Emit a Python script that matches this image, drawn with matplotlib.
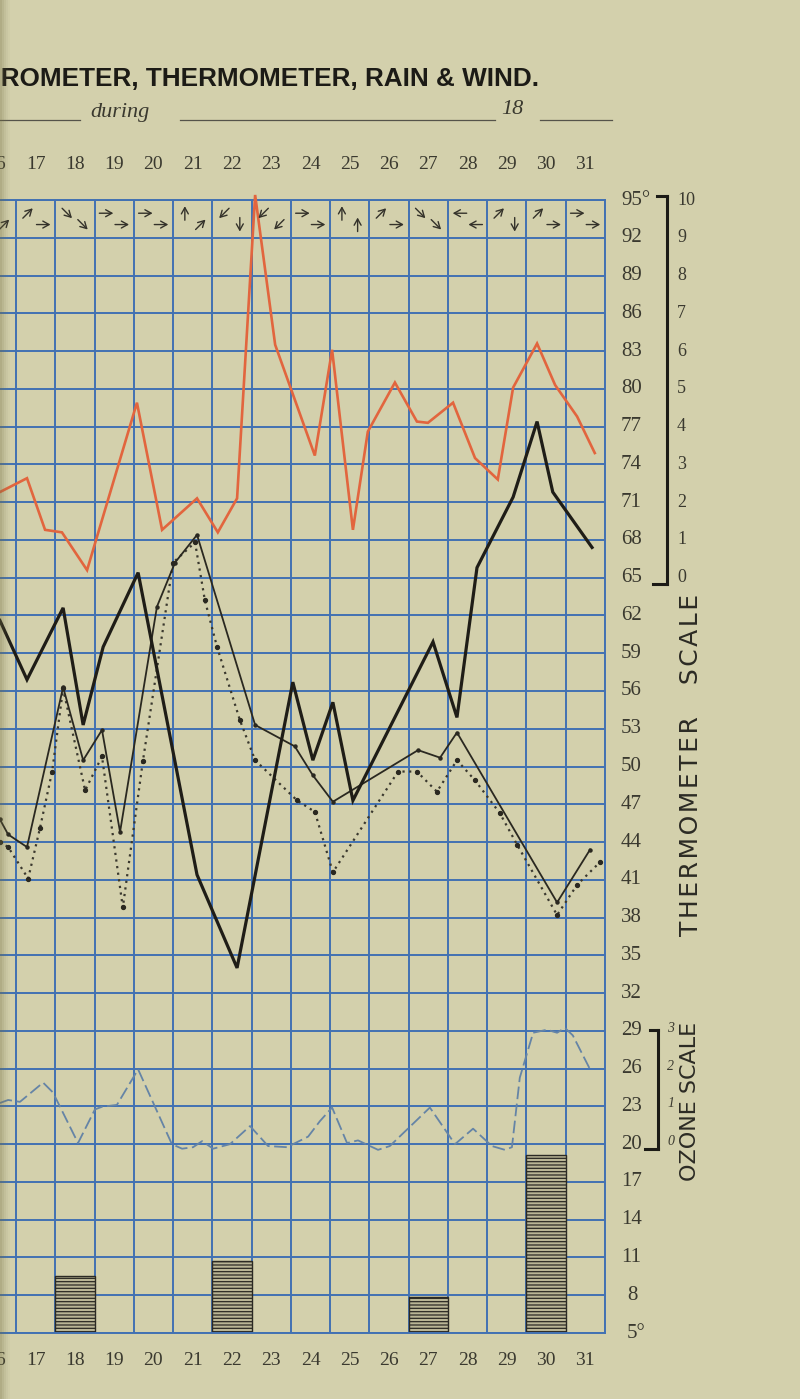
import matplotlib
matplotlib.use('Agg')
import matplotlib.pyplot as plt
import numpy as np
from matplotlib.lines import Line2D
from matplotlib.transforms import blended_transform_factory

# ---------------- data ----------------
days = list(range(16, 32))
day_labels = [str(d) for d in days]
temp_ticks = list(range(95, 4, -3))          # 95 ... 5
rain_ticks = list(range(10, -1, -1))         # 10 ... 0  (on 95..65)
ozone_ticks = [3, 2, 1, 0]                   # (on 29..20)

# red curve (upper section)
red_t = [16.09, 16.78, 17.24, 17.67, 18.31, 19.58, 20.22, 21.11, 21.64, 22.13,
         22.59, 23.10, 24.11, 24.55, 25.08, 25.46, 26.15, 26.71, 26.99, 27.63,
         28.19, 28.77, 29.16, 29.77, 30.23, 30.79, 31.24]
red_v = [71.8, 72.9, 68.8, 68.6, 65.6, 78.9, 68.8, 71.3, 68.6, 71.3,
         95.4, 83.5, 74.7, 83.1, 68.8, 76.6, 80.5, 77.4, 77.3, 78.9,
         74.5, 72.8, 80.1, 83.6, 80.3, 77.8, 74.9]

# thick black thermometer curve
thick_t = [16.09, 16.78, 17.70, 18.21, 18.72, 19.61, 21.11, 22.13, 23.55, 24.06,
           24.57, 25.08, 27.12, 27.73, 28.24, 29.16, 29.77, 30.17, 31.17]
thick_v = [61.6, 56.9, 62.6, 53.3, 59.5, 65.4, 41.4, 34.0, 56.7, 50.5,
           55.1, 47.3, 59.9, 53.9, 65.8, 71.4, 77.4, 71.8, 67.4]

# thin black curve
thin_t = [16.09, 16.30, 16.78, 17.70, 18.21, 18.69, 19.15, 20.09, 20.55, 21.11,
          22.59, 23.60, 24.06, 24.57, 26.74, 27.30, 27.73, 30.28, 31.12]
thin_v = [45.8, 44.6, 43.6, 56.3, 50.5, 52.9, 44.8, 62.7, 66.2, 68.4,
          53.3, 51.6, 49.3, 47.2, 51.3, 50.7, 52.7, 39.2, 43.4]

# dotted curve
dot_t = [16.09, 16.30, 16.81, 17.11, 17.42, 17.70, 18.26, 18.69, 19.22, 19.73,
         20.50, 21.06, 21.31, 21.62, 22.20, 22.59, 23.66, 24.11, 24.57, 26.23,
         26.71, 27.22, 27.73, 28.19, 28.82, 29.26, 30.28, 30.79, 31.37]
dot_v = [44.0, 43.6, 41.1, 45.1, 49.6, 56.2, 48.1, 50.8, 38.8, 50.4,
         66.2, 67.8, 63.2, 59.5, 53.7, 50.5, 47.3, 46.4, 41.6, 49.6,
         49.6, 48.0, 50.5, 48.9, 46.3, 43.8, 38.2, 40.6, 42.4]

# ozone (ozone-scale units 0..3)
ozone_t = [16.09, 16.30, 16.60, 17.19, 17.44, 18.08, 18.51, 18.69, 19.07, 19.61,
           20.04, 20.47, 20.73, 21.01, 21.24, 21.52, 21.95, 22.46, 22.92, 23.40,
           23.94, 24.24, 24.55, 24.93, 25.21, 25.72, 26.02, 27.04, 27.68, 28.14,
           28.62, 28.95, 29.13, 29.33, 29.67, 30.02, 30.28, 30.48, 30.68, 31.12]
ozone_v = [1.09, 1.17, 1.12, 1.63, 1.37, 0.03, 0.92, 0.99, 1.04, 1.98,
           0.99, 0.0, -0.12, -0.08, 0.08, -0.12, 0.0, 0.48, -0.05, -0.08,
           0.20, 0.61, 0.97, 0.03, 0.10, -0.15, -0.05, 0.97, 0.0, 0.41,
           -0.05, -0.15, -0.08, 1.76, 2.95, 3.03, 2.95, 3.08, 2.88, 1.98]

# rain (rain-scale units)
rain_days = [18, 22, 27, 30]
rain_vals = [1.5, 1.9, 0.95, 4.7]

# wind directions, two observations per day
wind_a = ['N', 'NE', 'SE', 'E', 'E', 'N', 'SW', 'SW', 'E', 'N', 'NE', 'SE', 'W', 'NE', 'NE', 'E']
wind_b = ['NE', 'E', 'SE', 'E', 'E', 'NE', 'S', 'SW', 'E', 'N', 'E', 'SE', 'W', 'S', 'E', 'E']

# ---------------- style ----------------
W, H = 800, 1399
PAPER = '#d3d0ac'
GRID = '#4271b3'
INK = '#2a2820'
RED = '#e2653e'
OZ = '#6584a6'
SERIF = ['Liberation Serif', 'DejaVu Serif']
SANS = ['DejaVu Sans']

plt.rcParams['hatch.linewidth'] = 0.9
plt.rcParams['hatch.color'] = '#2b2a24'

fig = plt.figure(figsize=(W / 100, H / 100), dpi=100, facecolor=PAPER)

x0_px, x1_px, ytop_px, ybot_px = 0, 605, 200, 1333
ax = fig.add_axes([x0_px / W, 1 - ybot_px / H, (x1_px - x0_px) / W, (ybot_px - ytop_px) / H])
ax.set_facecolor(PAPER)
ax.set_xlim(16.5 - 16 / 39.27, 31.5)
ax.set_ylim(5, 95)
ax.set_xticks(np.arange(16.5, 31.6, 1.0))
ax.set_yticks(temp_ticks)
ax.grid(True, color=GRID, lw=1.4, zorder=0)
ax.tick_params(length=0, labelbottom=False, labelleft=False)
for s in ax.spines.values():
    s.set_color(GRID)
    s.set_linewidth(1.4)
ax.spines['left'].set_visible(False)

# rain bars
ax.bar(rain_days, [3 * r for r in rain_vals], bottom=5, width=1.0,
       color='#b9b595', edgecolor='#2b2a24', hatch='-----', lw=1.0, zorder=2)

# ozone curve
ax.plot(ozone_t, [20 + 3 * o for o in ozone_v], color=OZ, lw=1.3,
        ls=(0, (7, 2.5)), zorder=3)

# red curve
ax.plot(red_t, red_v, color=RED, lw=1.9, zorder=4, clip_on=False, solid_joinstyle='miter')

# dotted curve
ax.plot(dot_t, dot_v, color='#3a382e', lw=1.6, ls=(0, (1, 2)), zorder=4)
ax.plot(dot_t, dot_v, ls='none', marker='o', ms=2.8, color='#2a2820', zorder=4)

# thin solid curve
ax.plot(thin_t, thin_v, color=INK, lw=1.3, zorder=5)
ax.plot(thin_t, thin_v, ls='none', marker='o', ms=2.2, color=INK, zorder=5)

# thick solid curve
ax.plot(thick_t, thick_v, color='#1f1d17', lw=2.3, zorder=6, solid_joinstyle='miter')

# wind arrows
ang = {'E': 0, 'NE': 45, 'N': 90, 'NW': 135, 'W': 180, 'SW': 225, 'S': 270, 'SE': 315}
L = 14.0
for d, wa, wb in zip(days, wind_a, wind_b):
    for (cx, cy, w) in ((d - 0.2, 93.95, wa), (d + 0.2, 93.05, wb)):
        a = np.deg2rad(ang[w])
        dx = 0.5 * L * np.cos(a) / 39.27
        dy = 0.5 * L * np.sin(a) / 12.59
        ax.annotate('', xy=(cx + dx, cy + dy), xytext=(cx - dx, cy - dy),
                    arrowprops=dict(arrowstyle='->,head_length=0.45,head_width=0.25',
                                    lw=1.0, color='#34322a', shrinkA=0, shrinkB=0),
                    zorder=7, annotation_clip=True)

# day labels (top and bottom)
tr_x = blended_transform_factory(ax.transData, ax.transAxes)
for d, lab in zip(days, day_labels):
    ax.text(d, 1.031, lab, transform=tr_x, ha='center', va='center',
            fontsize=14, family=SERIF, color='#3a392f', clip_on=False)
    ax.text(d, -0.024, lab, transform=tr_x, ha='center', va='center',
            fontsize=14, family=SERIF, color='#3a392f', clip_on=False)

# thermometer scale labels
tr_y = blended_transform_factory(ax.transAxes, ax.transData)
for t in temp_ticks:
    lab = f'{t}°' if t in (95, 5) else str(t)
    xx = 621 if t >= 10 else 627
    ax.text(xx / x1_px, t, lab, transform=tr_y, ha='left', va='center',
            fontsize=15, family=SERIF, color='#3a392f', clip_on=False)

# rain scale
for r in rain_ticks:
    ax.text(677 / x1_px, 65 + 3 * r, str(r), transform=tr_y, ha='left', va='center',
            fontsize=13, family=SERIF, color='#3a392f', clip_on=False)
bx = 667 / x1_px
for seg in (([bx, bx], [95.3, 64.5]), ([657 / x1_px, bx], [95.3, 95.3]), ([653 / x1_px, bx], [64.5, 64.5])):
    ax.add_line(Line2D(seg[0], seg[1], transform=tr_y, color='#1c1b16', lw=2.2, clip_on=False))

# ozone scale
for o in ozone_ticks:
    ax.text(667 / x1_px, 20 + 3 * o + 0.2, str(o), transform=tr_y, ha='left', va='center',
            fontsize=10, style='italic', family=SERIF, color='#3a392f', clip_on=False)
ox = 658 / x1_px
for seg in (([ox, ox], [29.1, 19.6]), ([650 / x1_px, ox], [29.1, 29.1]), ([645 / x1_px, ox], [19.6, 19.6])):
    ax.add_line(Line2D(seg[0], seg[1], transform=tr_y, color='#1c1b16', lw=2.2, clip_on=False))

hs = '\u200a'
fig.text(691 / W, 1 - 765 / H, hs.join('THERMOMETER') + '    ' + hs.join('SCALE'),
         rotation=90, ha='center', va='center', fontsize=18, family=SANS, color='#2c2b24')
fig.text(690 / W, 1 - 1101 / H, 'OZONE SCALE', rotation=90, ha='center', va='center',
         fontsize=16, family=SANS, color='#2c2b24')

# title and sub-title
fig.text(539 / W, 1 - 79 / H, 'BAROMETER, THERMOMETER, RAIN & WIND.', ha='right', va='center',
         fontsize=18.8, fontweight='bold', fontstretch='condensed',
         family=['Liberation Sans', 'DejaVu Sans'], color='#1c1b16')
fig.text(120 / W, 1 - 112 / H, 'during', ha='center', va='center', fontsize=16,
         style='italic', family=SERIF, color='#3a392f')
fig.text(512 / W, 1 - 110 / H, '18', ha='center', va='center', fontsize=16,
         style='italic', family=SERIF, color='#3a392f')
for xa, xb in ((0, 80), (180, 495), (540, 612)):
    fig.add_artist(Line2D([xa / W, xb / W], [1 - 120 / H, 1 - 120 / H],
                          transform=fig.transFigure, color='#55534a', lw=0.9))

# binding shadow on the left edge
for i, a in enumerate([0.35, 0.25, 0.16, 0.09, 0.04]):
    fig.add_artist(plt.Rectangle((i * 2 / W, 0), 2 / W, 1, transform=fig.transFigure,
                                 color='#6f6a3e', alpha=a, lw=0, zorder=10))

fig.savefig('out.png', dpi=100, facecolor=PAPER)
